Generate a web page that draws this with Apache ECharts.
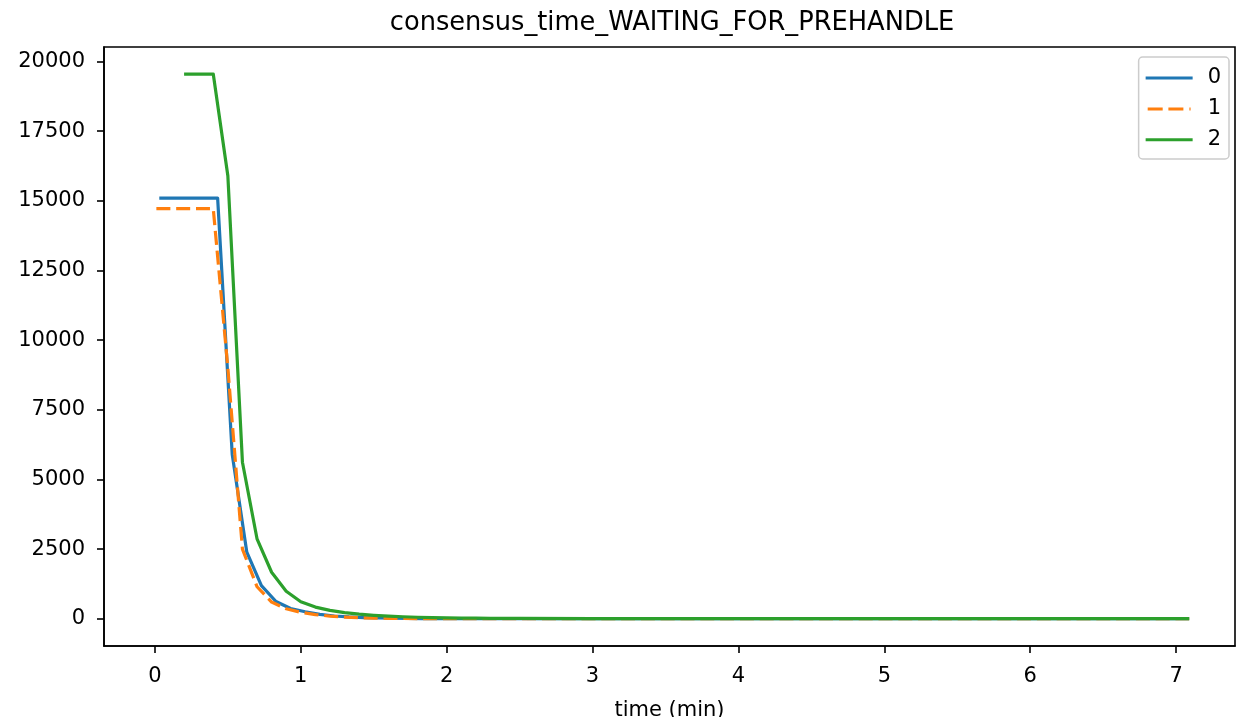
<!DOCTYPE html>
<html>
<head>
<meta charset="utf-8">
<script src="https://cdn.jsdelivr.net/npm/echarts@6/dist/echarts.min.js"></script>
<style>
  html, body { margin: 0; padding: 0; background: #fff; }
  #chart { width: 1236px; height: 717px; }
</style>
</head>
<body>
<div id="chart"></div>
<script>
// Consensus time spent waiting for prehandle, per node, over elapsed minutes
const seriesNames = ['0', '1', '2'];

const time0 = [0.03, 0.13, 0.23, 0.33, 0.43, 0.53, 0.63, 0.73, 0.83, 0.93, 1.03, 1.13, 1.23, 1.33, 1.43, 1.53, 1.63, 1.73, 1.83, 1.93, 2.03, 2.23, 2.53, 3.03, 3.53, 4.03, 4.53, 5.03, 5.53, 6.03, 6.53, 7.09];
const wait0 = [15100, 15100, 15100, 15100, 15100, 5900, 2390, 1190, 620, 370, 250, 160, 100, 65, 42, 28, 19, 13, 9, 6, 4, 3, 2, 2, 1, 1, 1, 1, 1, 1, 1, 1];

const time1 = [0.01, 0.1, 0.2, 0.3, 0.4, 0.5, 0.6, 0.7, 0.8, 0.9, 1.0, 1.1, 1.2, 1.3, 1.4, 1.5, 1.6, 1.7, 1.8, 1.9, 2.0, 2.2, 2.5, 3.0, 3.5, 4.0, 4.5, 5.0, 5.5, 6.0, 6.5, 7.09];
const wait1 = [14720, 14720, 14720, 14720, 14720, 9000, 2500, 1150, 600, 360, 230, 150, 95, 62, 40, 27, 18, 12, 8, 6, 4, 3, 2, 2, 1, 1, 1, 1, 1, 1, 1, 1];

const time2 = [0.2, 0.3, 0.4, 0.5, 0.6, 0.7, 0.8, 0.9, 1.0, 1.1, 1.2, 1.3, 1.4, 1.5, 1.6, 1.7, 1.8, 1.9, 2.0, 2.1, 2.2, 2.3, 2.4, 2.5, 3.0, 3.5, 4.0, 4.5, 5.0, 5.5, 6.0, 6.5, 7.09];
const wait2 = [19550, 19550, 19550, 15900, 5620, 2870, 1670, 990, 610, 420, 300, 220, 165, 125, 95, 72, 55, 42, 32, 25, 20, 16, 13, 11, 6, 4, 3, 2, 2, 2, 2, 2, 2];

const xTicks = [0, 1, 2, 3, 4, 5, 6, 7];
const yTicks = [0, 2500, 5000, 7500, 10000, 12500, 15000, 17500, 20000];

const colors = ['#1f77b4', '#ff7f0e', '#2ca02c'];
const FONT = 'DejaVu Sans';
const DASH = [14, 5.8];

// Legend handles: a solid stroke, and a dashed stroke built from short bars
const SOLID_ICON = 'path://M0,0H47V3H0Z';
const DASHED_ICON = 'path://M2.3,0h15v3h-15z M23,0h15v3h-15z M44,0h1.2v3h-1.2z';

function pairs(xs, ys) {
  return xs.map((x, i) => [x, ys[i]]);
}

function lineSeries(name, xs, ys, color, dashed) {
  return {
    name: name,
    type: 'line',
    data: pairs(xs, ys),
    symbol: 'none',
    showSymbol: false,
    smooth: false,
    lineStyle: {
      color: color,
      width: 3.2,
      type: dashed ? DASH : 'solid',
      cap: 'butt',
      join: 'round'
    },
    itemStyle: { color: color },
    emphasis: { disabled: true }
  };
}

const chart = echarts.init(document.getElementById('chart'), null, { renderer: 'canvas' });

const axisLineStyle = { color: '#000', width: 1.6 };

chart.setOption({
  animation: false,
  backgroundColor: '#fff',
  title: {
    text: 'consensus_time_WAITING_FOR_PREHANDLE',
    left: 667,
    top: 5.5,
    textAlign: 'center',
    textStyle: { fontFamily: FONT, fontSize: 25.7, fontWeight: 'normal', color: '#000' }
  },
  legend: {
    data: [
      { name: seriesNames[0], icon: SOLID_ICON },
      { name: seriesNames[1], icon: DASHED_ICON },
      { name: seriesNames[2], icon: SOLID_ICON }
    ],
    orient: 'vertical',
    right: 7,
    top: 57,
    align: 'left',
    itemWidth: 47,
    itemHeight: 3,
    itemGap: 9.9,
    padding: [10.5, 8, 8.6, 7],
    backgroundColor: 'rgba(255,255,255,0.8)',
    borderColor: '#cccccc',
    borderWidth: 1.5,
    borderRadius: 4,
    textStyle: { fontFamily: FONT, fontSize: 21, color: '#000', padding: [0, 0, 0, 10] }
  },
  grid: {
    left: 104,
    right: 1,
    top: 47,
    bottom: 71,
    show: true,
    borderColor: '#000',
    borderWidth: 1.6,
    containLabel: false,
    outerBoundsMode: 'none'
  },
  xAxis: {
    type: 'value',
    min: -0.349,
    max: 7.404,
    name: 'time (min)',
    nameLocation: 'middle',
    nameGap: 54,
    nameTextStyle: { fontFamily: FONT, fontSize: 21, color: '#000' },
    axisLine: { show: true, onZero: false, lineStyle: axisLineStyle },
    axisTick: { show: true, inside: false, length: 7, customValues: xTicks, lineStyle: axisLineStyle },
    axisLabel: { customValues: xTicks, margin: 20, fontFamily: FONT, fontSize: 21, color: '#000' },
    splitLine: { show: false }
  },
  yAxis: {
    type: 'value',
    min: -977,
    max: 20522,
    axisLine: { show: true, onZero: false, lineStyle: axisLineStyle },
    axisTick: { show: true, inside: false, length: 7, customValues: yTicks, lineStyle: axisLineStyle },
    axisLabel: {
      customValues: yTicks,
      margin: 19,
      fontFamily: FONT,
      fontSize: 21,
      color: '#000',
      formatter: (v) => String(v)
    },
    splitLine: { show: false }
  },
  series: [
    lineSeries(seriesNames[0], time0, wait0, colors[0], false),
    lineSeries(seriesNames[1], time1, wait1, colors[1], true),
    lineSeries(seriesNames[2], time2, wait2, colors[2], false)
  ]
});
</script>
</body>
</html>
